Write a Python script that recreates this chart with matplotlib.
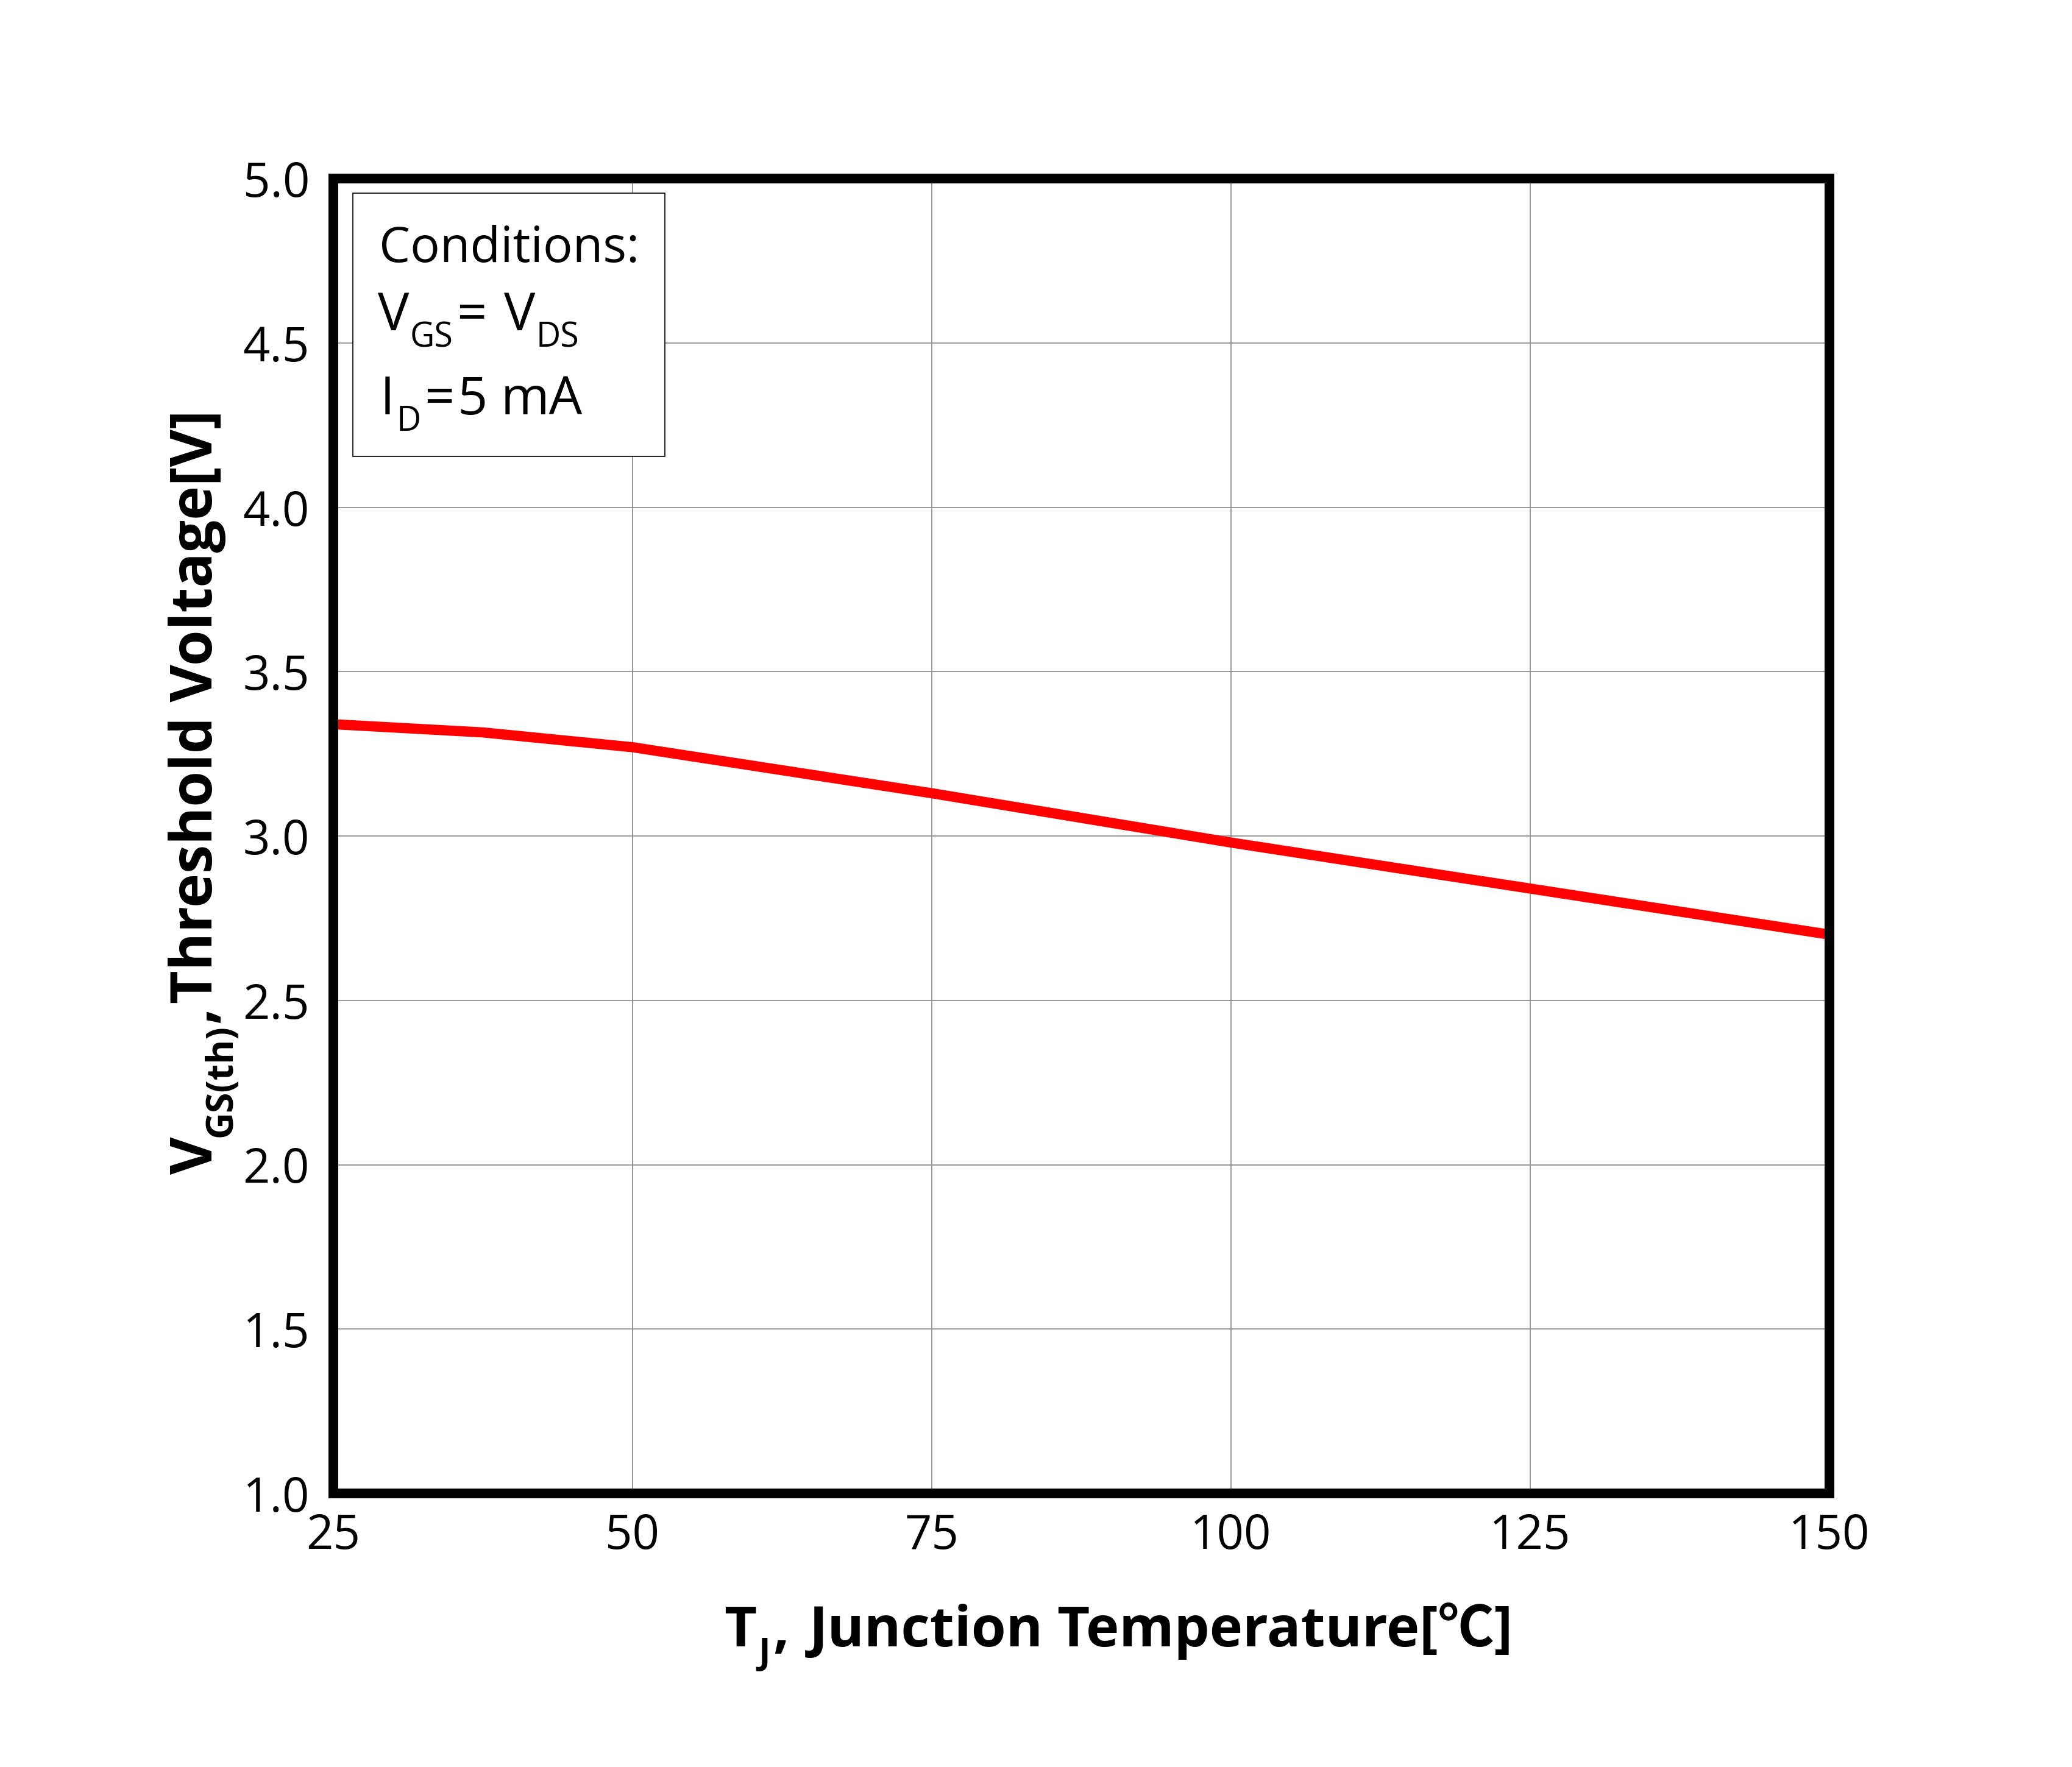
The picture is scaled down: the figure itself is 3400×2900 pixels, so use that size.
import matplotlib
matplotlib.use("Agg")
import matplotlib.pyplot as plt
from matplotlib.patches import Rectangle
from matplotlib.transforms import IdentityTransform

# Data
temp_c = [25, 37.5, 50, 62.5, 75, 87.5, 100, 112.5, 125, 137.5, 150]
vth_v = [3.34, 3.315, 3.27, 3.20, 3.13, 3.055, 2.98, 2.91, 2.84, 2.77, 2.70]
x_ticks = [25, 50, 75, 100, 125, 150]
y_ticks = [1.0, 1.5, 2.0, 2.5, 3.0, 3.5, 4.0, 4.5, 5.0]

FAM = ['Open Sans', 'Noto Sans CJK SC', 'DejaVu Sans']
plt.rcParams['font.family'] = FAM

W, H = 3400, 2900
fig = plt.figure(figsize=(34, 29), dpi=100)
l, r, t, b = 547, 3002, 293, 2451
ax = fig.add_axes([l / W, 1 - b / H, (r - l) / W, (b - t) / H])

ax.plot(temp_c, vth_v, color='#ff0000', lw=12, solid_capstyle='butt', zorder=4)
ax.set_xlim(25, 150)
ax.set_ylim(1.0, 5.0)
ax.set_xticks(x_ticks)
ax.set_yticks(y_ticks)
ax.set_xticklabels([str(v) for v in x_ticks])
ax.set_yticklabels([f"{v:.1f}" for v in y_ticks])
ax.tick_params(axis='both', length=0, labelsize=56)
ax.tick_params(axis='x', pad=22)
ax.tick_params(axis='y', pad=28)
ax.grid(True, color='#888888', lw=1.2, zorder=1)
ax.set_axisbelow(True)
for s in ax.spines.values():
    s.set_linewidth(11.5)
    s.set_color('black')
    s.set_zorder(6)

# Conditions box (reference pixel positions -> axes fraction)
def ax_frac(px, py):
    return ((px - l) / (r - l), (b - py) / (b - t))

x0, y0 = ax_frac(579, 749)
x1, y1 = ax_frac(1091, 317)
ax.add_patch(Rectangle((x0, y0), x1 - x0, y1 - y0, transform=ax.transAxes,
                       facecolor='white', edgecolor='black', lw=1.2, zorder=5))

renderer = fig.canvas.get_renderer()


def run_text(pieces, start, baseline, target_len=None, rotation=0):
    """pieces: (text, size_pt, shift_px_down, weight, gap_px_before)."""
    ts = [fig.text(0, 0, p[0], fontsize=p[1], fontweight=p[3], family=FAM,
                   transform=IdentityTransform(), ha='left', va='baseline',
                   rotation=rotation, rotation_mode='anchor', zorder=10)
          for p in pieces]

    def lengths():
        out = []
        for tt in ts:
            bb = tt.get_window_extent(renderer)
            out.append(bb.width if rotation == 0 else bb.height)
        return out

    scale = 1.0
    if target_len:
        L = sum(lengths()) + sum(p[4] for p in pieces)
        scale = target_len / L
        for tt, p in zip(ts, pieces):
            tt.set_fontsize(p[1] * scale)
    ls = lengths()
    cur = start
    for tt, p, ln in zip(ts, pieces, ls):
        cur += p[4] * scale
        if rotation == 0:
            tt.set_position((cur, baseline - p[2] * scale))
        else:
            tt.set_position((baseline + p[2] * scale, cur))
        cur += ln
    return ts


# Conditions text (reference coordinates: x from left, y from top)
run_text([("Conditions:", 62, 0, 'normal', 0)], 622, H - 430, target_len=427)
run_text([("V", 62, 0, 'normal', 0), ("GS", 40, 28, 'normal', 1),
          ("=", 62, 0, 'normal', 6), ("V", 62, 0, 'normal', 28),
          ("DS", 40, 28, 'normal', 2)], 620, H - 542)
run_text([("I", 62, 0, 'normal', 0), ("D", 40, 27, 'normal', 3),
          ("=", 62, 0, 'normal', 5), ("5", 62, 0, 'normal', 5),
          ("mA", 62, 0, 'normal', 22)], 624, H - 680)

# Axis labels
run_text([("T", 70, 0, 'bold', 0), ("J", 45, 30, 'bold', 3),
          (",", 70, 0, 'bold', 5), ("Junction Temperature[℃]", 70, 0, 'bold', 34)],
         1188, H - 2702, target_len=1295)
run_text([("V", 70, 0, 'bold', 0), ("GS(th)", 45, 32, 'bold', 0),
          (",", 70, 0, 'bold', 2), ("Threshold Voltage[V]", 70, 0, 'bold', 4)],
         H - 1927, 348, target_len=1255, rotation=90)

fig.savefig("out.png", dpi=100, facecolor='white')
